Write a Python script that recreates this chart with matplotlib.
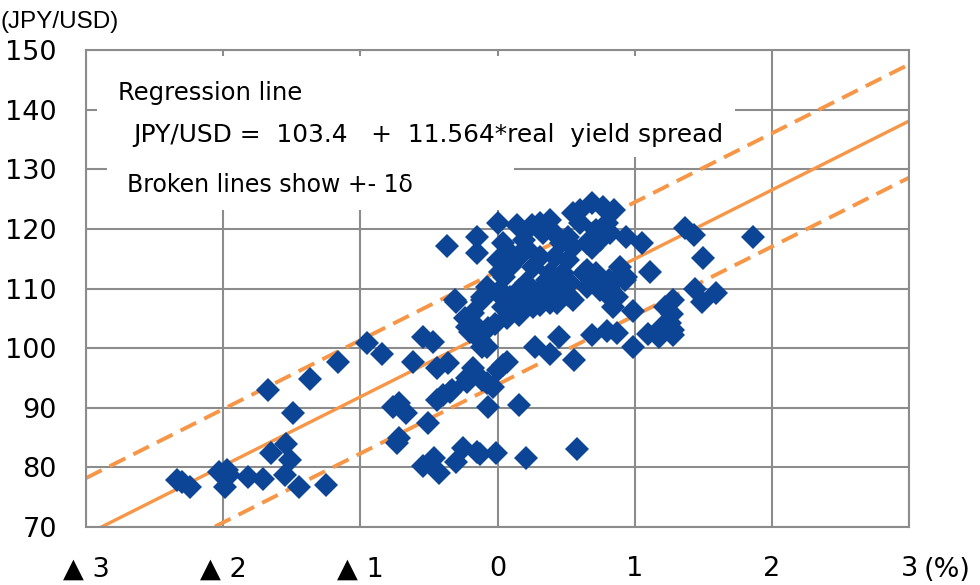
import matplotlib
matplotlib.use("Agg")
import matplotlib.pyplot as plt
from matplotlib.patches import Rectangle
import numpy as np

# real yield spread (%) vs JPY/USD
spread = [
    -2.34, -2.30, -2.24, -2.03, -1.97, -1.96, -1.99, -1.82, -1.71, -1.67,
    -1.49, -1.65, -1.54, -1.51, -1.55, -1.45, -1.25, -1.37, -1.16, -0.95,
    -0.84, -0.62, -0.54, -0.47, -0.76, -0.72, -0.67, -0.72, -0.73, -0.51,
    -0.44, -0.40, -0.35, -0.22, -0.08, -0.03, -0.07, 0.16, -0.54, -0.46,
    -0.43, -0.30, -0.25, -0.15, -0.13, -0.01, 0.21, 0.58, -0.44, -0.36,
    -0.18, -0.22, -0.11, 0.04, 0.07, -0.33, 0.27, 0.38, 0.45, 0.56,
    0.69, 0.80, 0.87, 0.99, 0.99, 1.10, 0.16, 0.26, 0.14, 0.38,
    0.51, 0.80, 0.84, -0.30, -0.24, -0.18, -0.20, -0.07, -0.08, -0.13,
    -0.37, -0.15, -0.15, 0.00, 0.14, 0.25, 0.04, 0.08, 0.09, 0.02,
    0.16, 0.21, -0.08, 0.02, 0.38, 0.41, 0.46, 0.42, 0.51, 0.38,
    0.31, 0.43, 0.53, 0.55, 0.60, 0.69, 0.77, 0.85, 0.60, 0.72,
    0.80, 0.82, 0.69, 0.94, 1.05, 1.11, 0.65, 0.72, 0.89, 0.93,
    0.77, -0.11, -0.31, 0.16, 0.21, 1.37, 1.43, 1.86, 1.50, 1.44,
    1.49, 1.59, 1.28, 1.22, 1.27, 1.20, 1.28, 1.28, 1.26, 0.81,
    0.87, 0.80, 0.00, 0.05, 0.21, 0.31, 0.36, 0.48, 0.55, 0.43,
    0.63, 0.65, 0.75, 0.84, 0.94, 0.26, 0.31, 0.51, 0.55, 0.65,
    0.75, 0.33, 0.19, 0.31, -0.11, 0.09, 0.24, 0.31, 0.84, -0.18,
    -0.22, -0.15, -0.11, 0.00, 0.04, 0.00, 0.07, 0.12, -0.02, 1.18,
]
jpy = [
    77.9, 77.5, 76.7, 79.2, 79.5, 78.7, 76.7, 78.4, 78.0, 93.0,
    89.1, 82.4, 83.9, 81.2, 78.7, 76.7, 77.0, 94.8, 97.7, 100.9,
    99.0, 97.7, 101.9, 101.0, 90.1, 90.8, 89.1, 84.9, 84.1, 87.4,
    91.3, 92.1, 92.6, 94.3, 94.1, 93.5, 90.1, 90.5, 80.3, 81.6,
    79.1, 80.9, 83.2, 82.6, 82.2, 82.4, 81.6, 83.1, 96.7, 97.5,
    96.7, 95.0, 94.7, 97.2, 97.7, 93.0, 100.2, 99.0, 101.9, 98.0,
    102.2, 102.9, 102.5, 106.2, 100.2, 102.4, 105.6, 106.9, 108.1, 107.6,
    108.9, 109.2, 108.1, 107.7, 105.0, 104.2, 102.7, 103.4, 100.2, 101.4,
    117.1, 118.6, 116.0, 121.0, 120.6, 120.6, 117.6, 116.1, 113.6, 112.8,
    115.3, 116.8, 110.3, 109.7, 121.5, 119.3, 117.6, 115.3, 114.8, 112.6,
    109.7, 109.7, 110.9, 122.6, 123.2, 124.3, 123.6, 123.2, 121.0, 119.8,
    121.0, 119.3, 116.8, 118.6, 117.6, 112.8, 113.1, 112.6, 113.6, 111.4,
    110.3, 108.1, 108.1, 109.7, 110.9, 120.1, 119.0, 118.6, 115.1, 109.9,
    107.7, 109.2, 108.1, 106.9, 105.8, 103.6, 102.2, 103.0, 104.2, 111.4,
    108.6, 109.7, 114.8, 111.9, 108.1, 108.1, 111.4, 112.6, 108.1, 107.6,
    112.6, 110.3, 109.7, 110.9, 111.9, 113.6, 115.3, 118.6, 117.0, 117.6,
    118.1, 119.3, 118.1, 121.0, 108.6, 108.6, 108.6, 107.2, 106.9, 105.9,
    103.5, 102.5, 100.2, 109.2, 106.9, 96.3, 105.0, 106.5, 104.0, 101.9,
]

intercept = 103.4
slope = 11.564
sigma = 9.5

xticks = [-3, -2, -1, 0, 1, 2, 3]
xticklabels = ['▲ 3', '▲ 2', '▲ 1', '0', '1', '2', '3']
yticks = [70, 80, 90, 100, 110, 120, 130, 140, 150]

grid_col = '#8c8c8c'
orange = '#F79646'
blue = '#0D4596'

fig = plt.figure(figsize=(9.8, 5.85), dpi=100)
ax = fig.add_axes([0.0878, 0.0991, 0.8398, 0.8154])

ax.set_xlim(-3, 3)
ax.set_ylim(70, 150)
ax.set_xticks(xticks)
ax.set_xticklabels(xticklabels)
ax.set_yticks(yticks)
ax.tick_params(length=0, labelsize=19.5, pad=21)
ax.grid(True, color=grid_col, linewidth=1.5, zorder=0)
ax.set_axisbelow(True)
for sp in ax.spines.values():
    sp.set_color(grid_col)
    sp.set_linewidth(1.5)

# white boxes behind the annotation text (hide the grid there)
ax.add_patch(Rectangle((0.0134, 0.7757), 0.7752, 0.2117, transform=ax.transAxes,
                       facecolor='white', edgecolor='none', zorder=1))
ax.add_patch(Rectangle((0.0255, 0.6646), 0.4945, 0.13, transform=ax.transAxes,
                       facecolor='white', edgecolor='none', zorder=1))

# regression line and +-1 sigma bands
xs = np.array([-3, 3])
ax.plot(xs, intercept + slope * xs, color=orange, lw=2.4, zorder=2)
ax.plot(xs, intercept + sigma + slope * xs, color=orange, lw=2.8,
        linestyle=(0, (4.5, 2.3)), zorder=2)
ax.plot(xs, intercept - sigma + slope * xs, color=orange, lw=2.8,
        linestyle=(0, (4.5, 2.3)), zorder=2)

ax.plot(spread, jpy, linestyle='none', marker='D', ms=12, mew=0,
        color=blue, zorder=3)

ax.text(0.0389, 0.895, 'Regression line', transform=ax.transAxes,
        fontsize=17.5, va='baseline', ha='left', zorder=4)
ax.text(0.0571, 0.807, 'JPY/USD =  103.4   +  11.564*real  yield spread',
        transform=ax.transAxes, fontsize=17.9, va='baseline', ha='left', zorder=4)
ax.text(0.0498, 0.702, 'Broken lines show +- 1δ', transform=ax.transAxes,
        fontsize=17, va='baseline', ha='left', zorder=4)

fig.text(1 / 980, 1 - 28 / 585, '(JPY/USD)', family='Liberation Sans',
         fontsize=17.5, ha='left', va='baseline')
fig.text(924 / 980, 1 - 577 / 585, '(%)', fontsize=19.5, ha='left', va='baseline')

fig.savefig('out.png', dpi=100)
